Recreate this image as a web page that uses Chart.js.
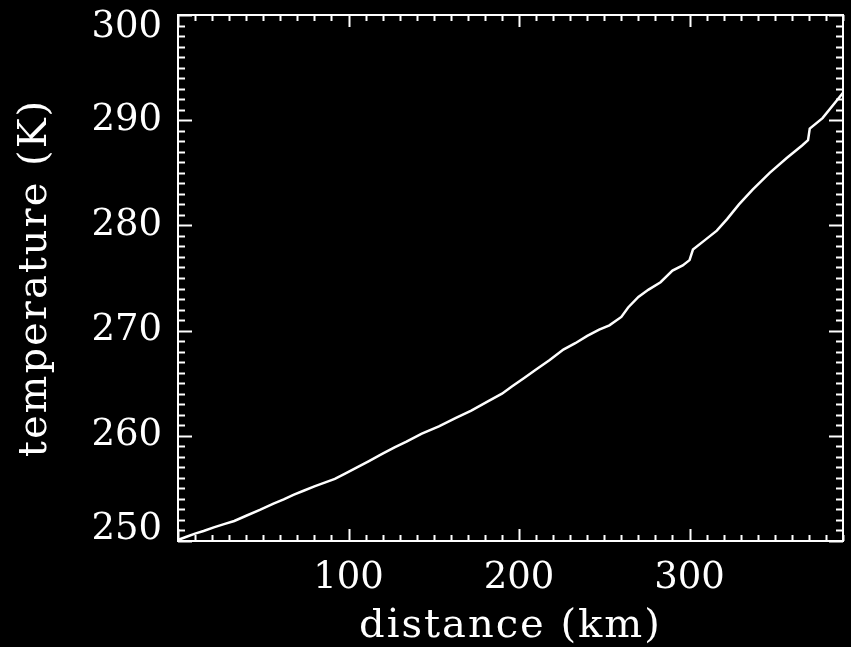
<!DOCTYPE html>
<html>
<head>
<meta charset="utf-8">
<script src="https://cdn.jsdelivr.net/npm/chart.js@4"></script>
<style>
  body { margin: 0; background: #000; }
  canvas { display: block; }
</style>
</head>
<body>
<canvas id="tempChart" width="851" height="647"></canvas>
<script>
// distância ao longo do perfil (km) e temperatura (K)
const distanceKm = [
  0, 5, 10, 15, 21, 27, 33, 40, 48, 56, 62, 68, 74, 80, 86, 92, 98, 105, 112,
  120, 127, 134, 143, 153, 163, 172, 182, 190, 196, 203, 210, 218, 226, 233,
  240, 247, 253, 260, 264, 270, 276, 283, 290, 296, 300, 302, 309, 316, 322,
  329, 337, 347, 357, 366, 369.5, 370.5, 378, 386, 390,
];
const temperatureK = [
  250.1, 250.4, 250.7, 250.95, 251.3, 251.6, 251.9, 252.4, 252.95, 253.55,
  253.95, 254.4, 254.8, 255.2, 255.55, 255.9, 256.4, 257.0, 257.6, 258.3,
  258.9, 259.45, 260.2, 260.9, 261.7, 262.4, 263.3, 264.0, 264.7, 265.5,
  266.3, 267.2, 268.2, 268.8, 269.5, 270.1, 270.5, 271.3, 272.2, 273.2,
  273.9, 274.6, 275.7, 276.2, 276.7, 277.7, 278.6, 279.5, 280.6, 282.0,
  283.4, 285.0, 286.4, 287.6, 288.1, 289.2, 290.2, 291.8, 292.6,
];
const xTicks = [100, 200, 300];
const yTicks = [250, 260, 270, 280, 290, 300];
const xMinorStep = 10;
const yMinorStep = 1;

const serif = "DejaVu Serif";
const titleSpacing = "2px";

// moldura + marcas internas nos quatro lados (estilo IDL)
const boxTicks = {
  id: "boxTicks",
  beforeDraw(chart) {
    const ctx = chart.ctx;
    ctx.save();
    ctx.fillStyle = "#000";
    ctx.fillRect(0, 0, chart.width, chart.height);
    ctx.restore();
    // títulos dos eixos com letras mais espaçadas
    for (const id of ["x", "y"]) {
      const s = chart.scales[id];
      if (s && !s._spaced) {
        const orig = s.drawTitle;
        s.drawTitle = function () {
          this.ctx.save();
          this.ctx.letterSpacing = titleSpacing;
          orig.call(this);
          this.ctx.restore();
        };
        s._spaced = true;
      }
    }
  },
  afterDraw(chart) {
    const { ctx, chartArea: a } = chart;
    const xs = chart.scales.x;
    const ys = chart.scales.y;
    ctx.save();
    ctx.strokeStyle = "#fff";
    ctx.lineWidth = 2;
    ctx.strokeRect(a.left, a.top, a.right - a.left, a.bottom - a.top);
    ctx.beginPath();
    for (let v = xs.min; v <= xs.max + 1e-9; v += xMinorStep) {
      const px = Math.round(xs.getPixelForValue(v)) + 0.5;
      const len = v % 100 === 0 ? 12 : 6;
      ctx.moveTo(px, a.bottom);
      ctx.lineTo(px, a.bottom - len);
      ctx.moveTo(px, a.top);
      ctx.lineTo(px, a.top + len);
    }
    for (let v = ys.min; v <= ys.max + 1e-9; v += yMinorStep) {
      const py = Math.round(ys.getPixelForValue(v)) + 0.5;
      const len = Math.round(v) % 10 === 0 ? 14 : 7;
      ctx.moveTo(a.left, py);
      ctx.lineTo(a.left + len, py);
      ctx.moveTo(a.right, py);
      ctx.lineTo(a.right - len, py);
    }
    ctx.stroke();
    ctx.restore();
  },
};

const ctx = document.getElementById("tempChart").getContext("2d");
const tempChart = new Chart(ctx, {
  type: "line",
  data: {
    datasets: [
      {
        data: distanceKm.map((d, i) => ({ x: d, y: temperatureK[i] })),
        borderColor: "#fff",
        borderWidth: 2.5,
        pointRadius: 0,
        tension: 0,
        fill: false,
      },
    ],
  },
  options: {
    responsive: false,
    animation: false,
    devicePixelRatio: 1,
    layout: { padding: { left: 0, right: 8, top: 15, bottom: 0 } },
    plugins: {
      legend: { display: false },
      tooltip: { enabled: false },
    },
    scales: {
      x: {
        type: "linear",
        min: 0,
        max: 390,
        afterBuildTicks: (s) => {
          s.ticks = xTicks.map((v) => ({ value: v }));
        },
        afterFit: (s) => {
          s.height = 106;
          s.paddingLeft = 0;
          s.paddingRight = 0;
        },
        grid: { display: false },
        border: { display: false },
        ticks: {
          color: "#fff",
          font: { family: serif, size: 37 },
          padding: 7,
          autoSkip: false,
          maxRotation: 0,
        },
        title: {
          display: true,
          text: "distance (km)",
          color: "#fff",
          font: { family: serif, size: 40, lineHeight: 1 },
          padding: { top: 0, bottom: 0 },
        },
      },
      y: {
        type: "linear",
        min: 250,
        max: 300,
        afterBuildTicks: (s) => {
          s.ticks = yTicks.map((v) => ({ value: v }));
        },
        afterFit: (s) => {
          s.width = 178;
          s.paddingTop = 0;
          s.paddingBottom = 0;
        },
        grid: { display: false },
        border: { display: false },
        ticks: {
          color: "#fff",
          font: { family: serif, size: 37, lineHeight: "24px" },
          padding: 8,
          autoSkip: false,
          // rótulos das pontas ficam dentro da moldura, como no original
          callback: (v) =>
            v === yTicks[yTicks.length - 1] ? ["", String(v)]
            : v === yTicks[0] ? [String(v), ""]
            : String(v),
        },
        title: {
          display: true,
          text: "temperature (K)",
          color: "#fff",
          font: { family: serif, size: 40, lineHeight: 1 },
          padding: { top: 16, bottom: 0 },
        },
      },
    },
  },
  plugins: [boxTicks],
});
</script>
</body>
</html>
